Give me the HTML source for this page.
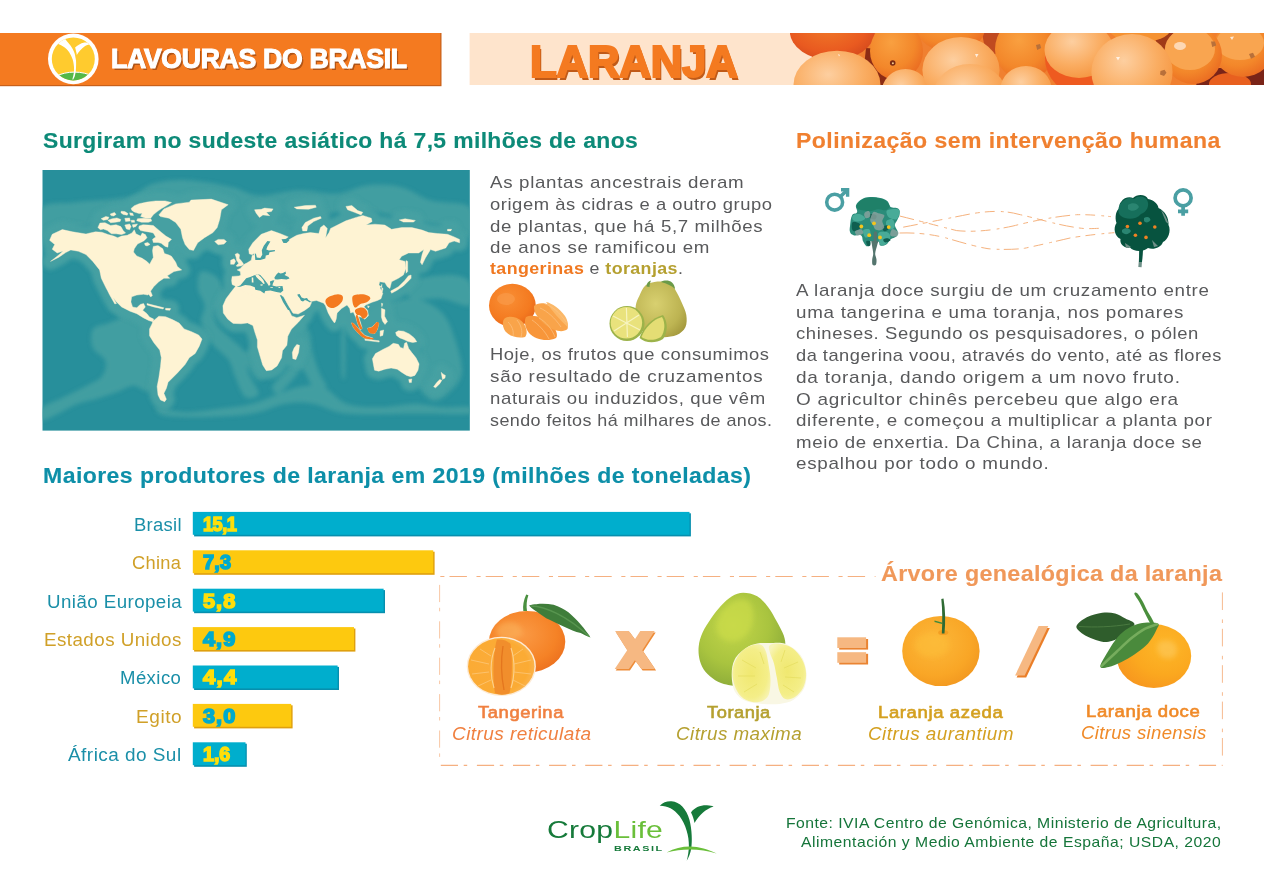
<!DOCTYPE html>
<html lang="pt-BR">
<head>
<meta charset="utf-8">
<title>Lavouras do Brasil - Laranja</title>
<style>
html,body{margin:0;padding:0;background:#fff;}
#page{position:relative;width:1264px;height:893px;overflow:hidden;background:#fff;font-family:"Liberation Sans",sans-serif;}
.t{position:absolute;margin:0;white-space:nowrap;line-height:1;font-family:"Liberation Sans",sans-serif;transform-origin:0 0;}
.abs{position:absolute;}
svg{position:absolute;left:0;top:0;overflow:visible;}
</style>
</head>
<body>
<div id="page">
<header id="topo">
<!-- header -->
<svg width="1264" height="893" viewBox="0 0 1264 893">
  <defs>
    <clipPath id="photoClip"><rect x="790" y="33" width="474" height="52"/></clipPath>
    <radialGradient id="oL" cx="40%" cy="35%" r="75%"><stop offset="0" stop-color="#fdcfa0"/><stop offset="0.55" stop-color="#faad62"/><stop offset="1" stop-color="#f4913a"/></radialGradient>
    <radialGradient id="oM" cx="40%" cy="35%" r="75%"><stop offset="0" stop-color="#f9a040"/><stop offset="0.6" stop-color="#f3872a"/><stop offset="1" stop-color="#e8641f"/></radialGradient>
    <radialGradient id="oD" cx="45%" cy="40%" r="75%"><stop offset="0" stop-color="#f07a28"/><stop offset="0.6" stop-color="#e95a20"/><stop offset="1" stop-color="#c8401c"/></radialGradient>
  </defs>
  <!-- orange banner -->
  <rect x="0" y="33" width="441.5" height="53.2" fill="#c8601a"/>
  <rect x="0" y="33" width="440.3" height="52" fill="#f47a20"/>
  <!-- peach banner -->
  <rect x="469.6" y="33" width="794.4" height="52" fill="#fee4cc"/>
  <!-- oranges photo -->
  <g clip-path="url(#photoClip)">
    <rect x="812" y="33" width="452" height="52" fill="#f08030"/>
    <!-- dark gaps -->
    <path d="M866 48 L892 50 L892 86 L862 86 Z" fill="#8c2c14"/>
    <path d="M982 33 H1002 V54 H986 Z" fill="#c04a20"/>
    <path d="M1154 33 H1178 V50 H1158 Z" fill="#a03a18"/>
    <path d="M1200 68 H1264 V86 H1196 Z" fill="#7a2418"/>
    <!-- back row -->
    <ellipse cx="832.4" cy="31" rx="42.6" ry="29.5" fill="url(#oD)"/>
    <ellipse cx="951" cy="28" rx="34" ry="24" fill="url(#oM)"/>
    <ellipse cx="1140" cy="30" rx="30" ry="12" fill="#f59232"/>
    <ellipse cx="896.500" cy="51" rx="26.500" ry="29" fill="url(#oM)"/>
    <circle cx="892.700" cy="63" r="2.800" fill="#7a2a14"/><circle cx="892.900" cy="63.200" r="1" fill="#f5d090"/>
    <ellipse cx="1025" cy="49" rx="30" ry="31" fill="url(#oM)"/>
    <ellipse cx="1230" cy="84" rx="21" ry="11" fill="#e8601f"/>
    <ellipse cx="1243" cy="49" rx="30" ry="28" fill="url(#oM)"/>
    <ellipse cx="1240" cy="43" rx="24" ry="17" fill="#f9a550"/>
    <ellipse cx="1193" cy="55" rx="29" ry="29" fill="url(#oM)"/>
    <ellipse cx="1190" cy="49" rx="25" ry="21" fill="#f9a550"/>
    <ellipse cx="1180" cy="46" rx="6" ry="4" fill="#fdd8b4"/>
    <ellipse cx="1080" cy="58" rx="35" ry="36" fill="#ee5a20"/>
    <ellipse cx="1079" cy="50" rx="34.500" ry="28" fill="url(#oL)"/>
    <!-- front row -->
    <ellipse cx="837" cy="84.700" rx="43.500" ry="34" fill="url(#oL)"/>
    <ellipse cx="905.500" cy="93" rx="24" ry="24" fill="url(#oL)"/>
    <ellipse cx="961" cy="70" rx="38.600" ry="33" fill="url(#oL)"/>
    <ellipse cx="970" cy="95" rx="36.500" ry="31" fill="url(#oL)"/>
    <ellipse cx="1026" cy="89" rx="25.500" ry="23" fill="url(#oL)"/>
    <ellipse cx="1132" cy="72" rx="40.600" ry="38" fill="url(#oL)"/>
    <path d="M1160.500 71l4-1.200 2 3-2.500 3.200-4-1.500z M1211 41.500l4 0 1.200 4-4 1.500z M1249 54l4-1.200 2 4-4 2z M1036 45l4-1 1.200 4-4 2z" fill="#b8703a"/>
    <path d="M1116 57l2 3.500 2-3.500z M1230 37l2 3 2-3.500z M975 54l1.500 3.500 2-3.500z M838 54l2 1 -1 1.500z" fill="#fff" opacity=".75"/>
  </g>
  <!-- logo circle -->
  <circle cx="73.3" cy="58.9" r="25.3" fill="#fff"/>
  <clipPath id="lgc"><circle cx="73.3" cy="58.9" r="21.5"/></clipPath>
  <g clip-path="url(#lgc)">
    <rect x="48" y="33" width="52" height="52" fill="#ffcb2e"/>
    <ellipse cx="74.5" cy="86.5" rx="26" ry="14.4" fill="#54b848" stroke="#fff" stroke-width="1"/>
    <path d="M56 45 L58.4 42 C60 41 62 39 64.3 38 C66.5 40.5 68 42.5 69.2 44 C71 46 72.500 48.500 73.300 50.200 C74.500 52.500 75.200 55 75.400 57.200 C76 59.500 76.200 62 76.100 64.100 C76.100 66.500 76 69 75.800 71.100 C75.500 73 75.200 75 74.700 76.600 L73.200 79.500 L72.300 79.500 C73 77 73.600 74.500 73.900 72.400 C74.100 70.500 74.100 68.500 74 66.900 C73.800 64.500 73.300 61.500 72.600 59.300 C71.800 57 70.600 54.500 69.200 52.300 C67.500 50 65.500 48 63.600 46.800 C62 45.600 60.200 44.600 58.400 44 Z" fill="#fff"/>
    <path d="M75.100 47.400 C76.300 46.300 77.500 45.400 78.900 44.700 C80.600 43.800 82.500 43 84.400 42.600 C85.700 42.500 87 42.600 88.300 42.900 L90 44.300 C87.800 44.800 86.400 45.400 85.100 46.100 C83.400 47.300 81.800 48.600 80.300 50.200 C79 51.700 77.800 53.300 76.800 55.100 C76.700 53.800 76.500 52.600 76.100 51.600 C75.900 50.200 75.500 48.800 75.100 47.400 Z" fill="#fff"/>
  </g>
</svg>
<div class="t" style="font-size:27.4px;font-weight:700;color:#fff;letter-spacing:-0.335px;top:44.70px;left:110.50px;transform:scaleX(0.9732);text-shadow:1.8px 2.3px 0 #b05416;-webkit-text-stroke:1.1px #fff;">LAVOURAS DO BRASIL</div>
<h1 class="t" style="font-size:44px;font-weight:700;color:#f47a20;letter-spacing:-0.163px;top:40.00px;left:529.80px;transform:scaleX(0.9931);text-shadow:2px 2.5px 0 #c05a18;-webkit-text-stroke:2.2px #f47a20;">LARANJA</h1>
</header>
<section id="origem">
<!-- world map -->
<svg width="1264" height="893" viewBox="0 0 1264 893">
  <defs>
    <clipPath id="mapClip"><rect x="42.5" y="170" width="427.3" height="260.6"/></clipPath>
    <filter id="blur6" x="-20%" y="-20%" width="140%" height="140%"><feGaussianBlur stdDeviation="5"/></filter>
    <filter id="blur3" x="-20%" y="-20%" width="140%" height="140%"><feGaussianBlur stdDeviation="2"/></filter>
  </defs>
  <rect x="42.5" y="170" width="427.3" height="260.6" fill="#278f9b"/>
  <g clip-path="url(#mapClip)">
    <path d="M42.0,207.3C47.6,201.3 61.8,203.9 75.9,202.2C90.0,200.5 113.7,200.2 126.7,197.1C139.6,194.0 143.6,186.4 153.8,183.5C163.9,180.7 174.6,179.6 187.6,180.2C200.6,180.7 219.8,184.4 231.6,186.9C243.5,189.5 247.4,194.8 258.7,195.4C270.0,196.0 286.4,190.6 299.4,190.3C312.3,190.0 325.3,194.6 336.6,193.7C347.9,192.9 356.4,186.4 367.1,185.2C377.8,184.1 390.2,184.4 401.0,186.9C411.7,189.5 419.9,197.1 431.4,200.5C442.9,203.9 463.6,201.0 470.0,207.3C476.5,213.5 473.7,234.3 470.0,237.7C466.4,241.1 457.6,230.4 448.4,227.6C439.1,224.7 428.6,223.6 414.5,220.8C400.4,218.0 377.8,211.8 363.7,210.6C349.6,209.5 338.3,211.2 329.8,214.0C321.4,216.8 321.4,224.7 312.9,227.6C304.4,230.4 289.2,229.3 279.0,231.0C268.9,232.6 259.9,233.2 252.0,237.7C244.1,242.2 238.4,255.8 231.6,258.0C224.9,260.3 218.1,251.8 211.3,251.3C204.5,250.7 196.6,251.3 191.0,254.7C185.4,258.0 183.7,274.4 177.5,271.6C171.2,268.8 162.2,247.3 153.8,237.7C145.3,228.1 136.8,216.3 126.7,214.0C116.5,211.8 103.5,221.4 92.8,224.2C82.1,227.0 70.8,228.7 62.3,231.0C53.9,233.2 45.4,241.7 42.0,237.7C38.6,233.8 36.4,213.2 42.0,207.3ZM201.2,271.6C204.5,269.9 214.1,273.8 218.1,278.4C222.0,282.9 225.4,293.0 224.9,298.7C224.3,304.3 215.8,307.7 214.7,312.2C213.6,316.7 215.3,321.3 218.1,325.8C220.9,330.3 227.1,334.8 231.6,339.3C236.2,343.8 242.4,347.2 245.2,352.9C248.0,358.5 246.3,366.4 248.6,373.2C250.8,380.0 259.3,389.6 258.7,393.5C258.2,397.5 249.1,399.7 245.2,396.9C241.2,394.1 237.8,382.8 235.0,376.6C232.2,370.4 232.2,365.3 228.3,359.6C224.3,354.0 215.8,348.9 211.3,342.7C206.8,336.5 202.3,328.6 201.2,322.4C200.0,316.2 205.1,311.1 204.5,305.5C204.0,299.8 198.3,294.2 197.8,288.5C197.2,282.9 197.8,273.3 201.2,271.6ZM92.8,329.2C95.4,325.0 103.2,325.2 108.4,323.1C113.6,321.0 119.3,319.2 124.0,316.6C128.6,314.0 132.3,306.4 136.5,307.5C140.7,308.6 145.8,317.4 149.0,323.1C152.2,328.8 153.9,335.4 155.4,341.7C157.0,348.0 158.5,354.4 158.5,360.7C158.5,366.9 157.0,374.1 155.4,379.3C153.9,384.5 152.7,390.7 149.0,391.8C145.3,392.9 138.6,385.7 133.4,385.7C128.2,385.7 123.6,389.7 117.9,391.8C112.1,393.9 105.7,396.2 98.9,398.2C92.1,400.3 83.7,401.7 76.9,404.3C70.1,406.9 64.1,411.2 58.3,413.8C52.4,416.5 44.7,421.3 42.0,420.3C39.3,419.2 38.8,411.4 42.0,407.7C45.2,404.1 53.9,401.9 61.3,398.2C68.7,394.6 79.6,389.4 86.4,385.7C93.1,382.0 98.8,380.4 101.9,376.2C105.1,372.1 106.8,365.3 105.3,360.7C103.8,356.0 94.9,353.4 92.8,348.1C90.7,342.9 90.2,333.3 92.8,329.2ZM109.7,298.7C112.0,298.1 123.3,307.7 130.0,312.2C136.8,316.7 146.4,322.4 150.4,325.8C154.3,329.2 156.6,333.1 153.8,332.5C150.9,332.0 139.6,325.2 133.4,322.4C127.2,319.6 120.5,319.6 116.5,315.6C112.5,311.7 107.5,299.2 109.7,298.7ZM157.1,407.0C160.5,406.5 174.1,411.8 184.2,412.1C194.4,412.4 206.8,410.2 218.1,408.7C229.4,407.3 241.8,406.2 252.0,403.7C262.1,401.1 271.1,396.3 279.0,393.5C286.9,390.7 292.0,387.9 299.4,386.7C306.7,385.6 315.2,383.9 323.1,386.7C331.0,389.6 337.2,400.3 346.8,403.7C356.4,407.0 369.4,407.0 380.6,407.0C391.9,407.0 404.3,403.7 414.5,403.7C424.7,403.7 432.3,406.5 441.6,407.0C450.8,407.6 465.3,405.9 470.0,407.0C474.8,408.2 479.3,412.7 470.0,413.8C460.8,414.9 435.0,413.8 414.5,413.8C394.0,413.8 363.7,415.5 346.8,413.8C329.8,412.1 323.1,405.4 312.9,403.7C302.8,402.0 296.0,402.0 285.8,403.7C275.7,405.4 265.5,411.6 252.0,413.8C238.4,416.1 219.2,416.9 204.5,417.2C189.9,417.5 171.8,417.2 163.9,415.5C156.0,413.8 153.8,407.6 157.1,407.0ZM299.4,319.0C301.6,319.0 307.3,326.9 309.5,332.5C311.8,338.2 311.2,346.1 312.9,352.9C314.6,359.6 317.4,367.5 319.7,373.2C321.9,378.8 327.6,384.5 326.5,386.7C325.3,389.0 316.9,389.6 312.9,386.7C309.0,383.9 306.1,370.9 302.8,369.8C299.4,368.7 296.5,376.0 292.6,380.0C288.6,383.9 282.4,392.4 279.0,393.5C275.7,394.6 271.1,390.7 272.3,386.7C273.4,382.8 281.3,375.4 285.8,369.8C290.3,364.2 297.7,359.1 299.4,352.9C301.1,346.7 296.0,338.2 296.0,332.5C296.0,326.9 297.1,319.0 299.4,319.0ZM341.7,319.0C342.3,310.0 344.5,310.0 345.1,319.0C345.6,328.0 345.6,364.2 345.1,373.2C344.5,382.2 342.3,382.2 341.7,373.2C341.1,364.2 341.1,328.0 341.7,319.0ZM380.6,305.5C389.7,300.9 404.3,297.6 414.5,298.7C424.7,299.8 434.8,305.5 441.6,312.2C448.4,319.0 451.8,329.2 455.1,339.3C458.5,349.5 463.0,364.2 461.9,373.2C460.8,382.2 453.4,389.0 448.4,393.5C443.3,398.0 437.1,402.5 431.4,400.3C425.8,398.0 416.2,386.7 414.5,380.0C412.8,373.2 421.3,367.5 421.3,359.6C421.3,351.7 420.1,337.6 414.5,332.5C408.9,327.5 395.3,328.0 387.4,329.2C379.5,330.3 371.6,339.9 367.1,339.3C362.6,338.8 358.1,331.4 360.3,325.8C362.6,320.1 371.6,310.0 380.6,305.5ZM407.7,281.8C413.9,277.8 438.0,275.0 448.4,275.0C458.8,275.0 466.4,276.7 470.0,281.8C473.7,286.8 474.8,302.6 470.0,305.5C465.3,308.3 451.4,299.8 441.6,298.7C431.8,297.6 416.8,301.5 411.1,298.7C405.5,295.9 401.5,285.7 407.7,281.8ZM245.2,352.9C247.4,348.3 261.0,345.0 265.5,346.1C270.0,347.2 272.8,354.0 272.3,359.6C271.7,365.3 265.5,377.7 262.1,380.0C258.7,382.2 254.8,377.7 252.0,373.2C249.1,368.7 242.9,357.4 245.2,352.9Z" fill="#48a2a3" opacity=".8" filter="url(#blur3)"/>
    <path d="M49.6,240.3 52.2,234.3 62.3,229.6 72.5,231.8 86.0,234.0 90.0,233.0 95.5,231.8 101.9,232.2 108.2,234.6 113.7,236.1 117.7,237.7 121.6,236.1 127.2,235.3 131.9,233.0 134.3,229.8 135.9,233.8 140.6,236.1 142.2,233.0 145.4,234.6 147.0,237.7 143.8,240.9 140.6,242.5 137.5,244.1 134.3,248.8 133.5,252.0 136.7,255.9 142.2,258.3 147.0,261.5 149.7,264.2 151.3,261.1 153.3,257.5 152.5,250.4 153.3,246.4 158.0,245.6 162.8,248.8 164.4,253.5 169.1,255.1 171.5,256.3 175.7,262.3 177.4,266.5 181.7,269.9 174.0,271.6 167.3,275.8 169.8,278.3 163.9,278.3 158.8,281.7 153.7,286.8 150.7,291.0 150.7,291.4 152.4,295.4 150.7,297.1 148.7,294.2 147.8,295.1 143.6,294.2 136.8,295.1 131.7,296.8 130.9,301.9 132.6,306.9 136.8,307.8 140.2,304.4 143.6,303.5 145.3,306.9 142.7,310.3 147.0,313.7 149.5,317.1 153.7,319.1 152.9,321.8 148.7,320.5 143.6,317.9 136.8,313.7 130.0,311.2 121.6,306.9 116.5,301.9 113.1,297.6 116.5,303.5 114.8,303.9 109.7,295.1 107.2,290.0 106.3,288.5 101.3,278.3 99.6,269.9 92.8,261.4 86.0,254.6 78.4,251.3 70.8,249.9 65.7,252.6 58.9,257.2 50.5,261.4 58.1,255.5 63.2,250.9 57.2,253.0 52.2,249.2 54.7,244.5ZM152.9,321.3 158.8,316.2 165.6,316.7 172.4,319.6 179.1,323.0 184.2,328.9 191.0,331.5 198.6,334.9 202.0,339.1 199.4,345.9 195.2,353.5 189.3,357.7 185.1,364.5 177.4,373.0 172.4,378.0 168.1,382.3 166.4,388.2 163.9,393.3 166.4,399.2 164.7,401.7 160.5,400.0 158.0,395.0 157.1,386.5 158.8,378.0 160.5,366.2 161.3,357.7 159.7,350.1 153.7,342.5 149.5,335.7 149.5,328.9 152.0,323.9ZM147.0,303.5 157.1,306.1 163.9,307.8 163.0,309.0 153.7,306.9 147.0,304.9ZM165.6,308.3 170.7,308.6 169.8,310.3 165.6,310.0ZM158.8,214.9 163.9,208.9 175.7,203.9 189.3,202.2 191.0,200.1 211.3,199.1 228.2,204.7 221.4,209.8 219.8,219.1 217.2,227.6 213.0,232.6 204.5,237.7 197.7,242.8 193.5,250.4 189.3,249.6 185.1,244.5 182.5,237.7 180.8,229.3 175.7,222.5 169.0,218.2 160.5,216.6ZM214.7,241.4 218.1,239.4 224.0,239.4 226.5,241.4 224.0,244.1 218.1,244.8ZM131.1,208.4 134.3,205.7 139.1,203.7 147.0,202.1 155.7,200.9 165.2,200.9 171.5,202.5 165.9,206.1 161.2,208.8 157.2,211.6 153.3,214.8 150.9,217.9 145.4,217.9 140.6,216.4 142.2,213.2 139.1,213.6 134.3,212.0 131.9,210.4ZM137.5,218.7 143.8,218.3 150.9,218.7 151.7,221.1 148.5,222.3 141.4,222.3 136.7,220.7ZM139.1,225.9 143.0,224.7 148.5,225.1 153.3,225.5 156.5,228.2 161.2,232.2 165.9,236.1 171.5,239.3 168.3,242.5 167.9,247.2 165.2,246.4 161.2,243.3 158.0,242.5 153.3,242.5 152.5,239.3 155.7,236.9 153.3,233.0 150.1,232.2 145.4,231.4 140.6,230.6 138.7,228.2ZM129.6,212.8 132.7,213.2 133.5,215.6 130.3,215.2ZM121.2,211.2 124.8,211.6 128.0,213.6 127.2,215.2 123.2,214.4 120.9,212.8ZM110.2,214.0 114.5,212.4 116.1,214.4 113.7,216.0 111.0,215.6ZM101.1,218.7 105.8,216.4 109.0,217.2 107.8,219.5 103.4,220.3ZM107.8,220.3 112.2,218.7 116.9,217.9 120.9,219.5 120.1,221.5 115.3,222.3 110.6,222.7ZM124.8,218.3 129.6,217.9 130.3,221.1 125.6,221.5ZM131.1,220.3 134.3,220.2 134.7,222.3 131.5,222.3ZM97.9,227.4 99.9,223.1 105.0,222.7 110.6,225.5 116.1,224.7 120.9,226.6 123.2,230.6 125.6,233.0 121.6,234.6 116.1,233.8 111.4,233.8 107.4,230.6 103.4,229.0 100.3,229.8ZM124.8,225.1 129.6,223.9 131.1,226.6 129.6,229.8 126.4,229.0ZM132.3,224.7 137.5,223.9 135.9,226.6 133.1,227.4ZM144.6,243.3 147.8,242.5 150.1,244.4 147.0,246.0 145.0,245.2ZM235.1,254.3 237.6,253.2 239.6,254.8 239.1,258.3 241.7,261.3 243.7,264.3 241.7,265.8 237.1,266.5 236.1,265.8 238.6,263.3 236.6,260.3 236.1,257.3ZM230.6,260.3 234.1,258.8 235.6,261.3 234.1,264.3 230.6,264.3ZM252.8,242.8 261.2,234.3 271.4,230.6 279.9,233.5 288.3,236.9 282.4,241.1 284.9,242.8 290.9,238.6 296.8,235.2 303.6,233.5 310.3,232.6 318.8,233.5 320.5,227.6 323.9,225.0 327.3,228.4 325.6,237.7 329.0,232.6 330.6,228.4 337.4,225.0 345.9,220.8 356.0,217.4 362.8,215.4 371.3,218.2 372.1,221.6 366.2,225.0 374.7,224.2 384.8,225.0 391.6,229.3 401.7,227.6 411.9,227.6 422.1,230.1 428.8,232.6 437.3,233.5 447.5,234.3 454.2,236.9 459.6,239.4 459.6,242.8 454.2,241.1 449.1,242.8 445.8,247.9 435.6,251.3 430.5,249.6 429.7,250.9 425.4,258.0 422.1,264.8 420.4,262.3 422.1,254.6 423.8,249.6 418.7,253.0 408.5,253.0 401.7,256.3 399.2,259.7 405.1,261.4 406.0,268.2 403.4,275.0 398.4,278.3 391.6,281.7 389.9,288.5 387.4,286.8 384.8,282.6 379.7,281.7 378.9,285.1 383.1,288.5 381.4,295.3 381.9,284.3 380.1,287.9 382.8,293.3 381.0,298.7 377.5,300.5 372.1,302.3 365.8,305.0 364.0,306.7 367.6,310.3 368.5,315.7 364.9,319.3 362.2,317.5 358.6,316.6 360.4,322.0 362.2,328.3 360.4,330.0 357.7,323.8 355.9,317.5 353.3,312.1 350.6,313.0 349.7,308.5 347.0,305.0 341.6,308.5 337.1,313.0 336.2,319.3 334.4,322.9 331.7,319.3 328.2,313.0 325.5,305.8 323.7,303.2 316.5,300.5 311.1,301.4 311.5,302.8 309.7,306.7 304.9,310.2 298.2,314.1 293.0,313.2 288.2,305.5 283.7,296.9 280.7,295.1 280.7,295.1 276.4,298.6 260.3,298.6 245.2,292.5 238.1,288.5 236.6,286.7 232.1,284.5 231.6,280.5 232.1,276.4 239.1,275.9 240.7,274.9 240.2,271.4 237.1,269.9 240.2,268.4 244.2,264.3 247.2,262.8 251.2,260.3 252.2,255.3 253.8,255.3 254.3,253.2 252.2,254.8 249.2,253.8 248.7,249.2ZM241.2,285.2 248.4,286.1 255.6,288.8 262.7,293.3 268.1,291.5 275.3,293.3 280.7,296.3 283.9,301.9 288.2,309.1 291.8,315.9 296.8,317.7 304.5,315.2 298.6,322.0 291.4,329.2 287.8,336.3 286.9,345.3 282.5,350.7 281.6,357.8 277.1,365.9 271.7,370.0 266.3,370.7 262.7,365.0 260.0,356.0 257.4,347.1 257.4,339.9 254.7,331.8 252.9,325.6 247.5,322.9 241.2,323.8 233.2,323.4 227.8,319.3 223.3,313.0 222.9,305.8 226.0,298.7 231.4,291.5 235.8,286.1ZM296.8,344.4 299.5,345.3 298.6,352.5 295.9,359.6 292.8,358.7 292.3,352.5 294.1,348.0ZM254.5,209.8 261.2,209.3 264.6,208.1 273.1,208.9 271.4,211.5 266.3,212.3 269.7,215.7 262.9,214.9 259.5,217.4 256.2,213.2ZM294.2,207.2 305.3,205.6 315.4,205.2 316.3,207.2 308.6,209.3 296.8,208.9ZM301.9,227.6 305.3,222.5 313.7,218.2 320.5,216.6 321.3,218.2 313.7,221.6 307.8,225.9 306.9,230.9 302.7,230.9ZM345.9,206.4 351.8,205.6 357.7,210.6 362.8,212.3 361.1,214.9 354.3,212.3 347.6,209.8ZM399.2,219.9 405.1,218.8 415.3,220.4 413.6,222.1 403.4,222.1ZM447.5,229.3 451.7,229.3 450.8,230.9 447.5,230.9ZM406.0,260.6 407.7,261.4 407.7,271.6 406.0,273.3ZM408.5,275.8 411.1,275.0 411.1,278.3 408.5,280.9 403.4,286.0 396.7,290.5 391.6,293.2 390.7,291.0 398.4,286.8 404.3,280.9ZM364.9,339.0 379.2,340.8 379.2,342.1 364.9,340.3ZM381.4,308.2 385.0,309.8 384.6,316.2 387.5,321.6 385.0,324.5 382.5,321.1 381.4,317.0ZM380.1,330.9 383.7,330.0 382.8,335.4 380.1,336.3ZM381.4,303.2 382.8,303.7 381.9,306.7ZM367.6,305.8 369.4,306.4 368.1,308.0ZM334.1,319.8 335.5,320.2 335.1,322.3 334.1,321.6ZM351.5,322.9 354.1,323.8 359.5,330.0 364.9,335.4 373.0,338.1 372.1,339.5 364.0,338.1 357.7,332.7 353.3,327.4ZM367.6,328.3 372.1,327.0 376.6,322.3 378.9,323.4 377.5,329.2 374.8,333.6 369.4,332.7ZM372.4,358.8 375.5,353.6 382.8,349.5 389.0,346.4 393.2,343.3 398.3,344.3 400.4,347.4 403.5,348.4 404.6,343.3 406.6,342.2 408.7,348.4 411.8,352.6 416.0,357.8 419.1,364.0 418.0,370.2 414.9,375.4 410.8,376.8 406.6,375.4 401.5,372.3 397.3,369.2 391.1,368.1 384.9,369.2 378.7,371.2 374.5,370.2 373.5,365.0ZM408.7,379.5 411.8,378.9 411.4,382.6 409.3,382.6ZM441.2,372.3 442.9,373.9 445.4,375.4 445.0,378.1 442.5,379.5 441.9,376.4ZM441.9,380.2 439.8,383.7 435.6,387.8 433.6,386.8 436.7,382.6 439.8,379.5ZM395.6,332.5 398.3,330.8 403.5,331.2 409.3,333.9 414.3,337.9 416.8,341.8 412.8,342.6 408.1,341.6 403.9,339.5 399.8,337.9 396.5,335.4Z" fill="#46a1a3" stroke="#46a1a3" stroke-width="17" stroke-linejoin="round" filter="url(#blur3)" opacity=".95"/>
    <path d="M49.6,240.3 52.2,234.3 62.3,229.6 72.5,231.8 86.0,234.0 90.0,233.0 95.5,231.8 101.9,232.2 108.2,234.6 113.7,236.1 117.7,237.7 121.6,236.1 127.2,235.3 131.9,233.0 134.3,229.8 135.9,233.8 140.6,236.1 142.2,233.0 145.4,234.6 147.0,237.7 143.8,240.9 140.6,242.5 137.5,244.1 134.3,248.8 133.5,252.0 136.7,255.9 142.2,258.3 147.0,261.5 149.7,264.2 151.3,261.1 153.3,257.5 152.5,250.4 153.3,246.4 158.0,245.6 162.8,248.8 164.4,253.5 169.1,255.1 171.5,256.3 175.7,262.3 177.4,266.5 181.7,269.9 174.0,271.6 167.3,275.8 169.8,278.3 163.9,278.3 158.8,281.7 153.7,286.8 150.7,291.0 150.7,291.4 152.4,295.4 150.7,297.1 148.7,294.2 147.8,295.1 143.6,294.2 136.8,295.1 131.7,296.8 130.9,301.9 132.6,306.9 136.8,307.8 140.2,304.4 143.6,303.5 145.3,306.9 142.7,310.3 147.0,313.7 149.5,317.1 153.7,319.1 152.9,321.8 148.7,320.5 143.6,317.9 136.8,313.7 130.0,311.2 121.6,306.9 116.5,301.9 113.1,297.6 116.5,303.5 114.8,303.9 109.7,295.1 107.2,290.0 106.3,288.5 101.3,278.3 99.6,269.9 92.8,261.4 86.0,254.6 78.4,251.3 70.8,249.9 65.7,252.6 58.9,257.2 50.5,261.4 58.1,255.5 63.2,250.9 57.2,253.0 52.2,249.2 54.7,244.5ZM152.9,321.3 158.8,316.2 165.6,316.7 172.4,319.6 179.1,323.0 184.2,328.9 191.0,331.5 198.6,334.9 202.0,339.1 199.4,345.9 195.2,353.5 189.3,357.7 185.1,364.5 177.4,373.0 172.4,378.0 168.1,382.3 166.4,388.2 163.9,393.3 166.4,399.2 164.7,401.7 160.5,400.0 158.0,395.0 157.1,386.5 158.8,378.0 160.5,366.2 161.3,357.7 159.7,350.1 153.7,342.5 149.5,335.7 149.5,328.9 152.0,323.9ZM147.0,303.5 157.1,306.1 163.9,307.8 163.0,309.0 153.7,306.9 147.0,304.9ZM165.6,308.3 170.7,308.6 169.8,310.3 165.6,310.0ZM158.8,214.9 163.9,208.9 175.7,203.9 189.3,202.2 191.0,200.1 211.3,199.1 228.2,204.7 221.4,209.8 219.8,219.1 217.2,227.6 213.0,232.6 204.5,237.7 197.7,242.8 193.5,250.4 189.3,249.6 185.1,244.5 182.5,237.7 180.8,229.3 175.7,222.5 169.0,218.2 160.5,216.6ZM214.7,241.4 218.1,239.4 224.0,239.4 226.5,241.4 224.0,244.1 218.1,244.8ZM131.1,208.4 134.3,205.7 139.1,203.7 147.0,202.1 155.7,200.9 165.2,200.9 171.5,202.5 165.9,206.1 161.2,208.8 157.2,211.6 153.3,214.8 150.9,217.9 145.4,217.9 140.6,216.4 142.2,213.2 139.1,213.6 134.3,212.0 131.9,210.4ZM137.5,218.7 143.8,218.3 150.9,218.7 151.7,221.1 148.5,222.3 141.4,222.3 136.7,220.7ZM139.1,225.9 143.0,224.7 148.5,225.1 153.3,225.5 156.5,228.2 161.2,232.2 165.9,236.1 171.5,239.3 168.3,242.5 167.9,247.2 165.2,246.4 161.2,243.3 158.0,242.5 153.3,242.5 152.5,239.3 155.7,236.9 153.3,233.0 150.1,232.2 145.4,231.4 140.6,230.6 138.7,228.2ZM129.6,212.8 132.7,213.2 133.5,215.6 130.3,215.2ZM121.2,211.2 124.8,211.6 128.0,213.6 127.2,215.2 123.2,214.4 120.9,212.8ZM110.2,214.0 114.5,212.4 116.1,214.4 113.7,216.0 111.0,215.6ZM101.1,218.7 105.8,216.4 109.0,217.2 107.8,219.5 103.4,220.3ZM107.8,220.3 112.2,218.7 116.9,217.9 120.9,219.5 120.1,221.5 115.3,222.3 110.6,222.7ZM124.8,218.3 129.6,217.9 130.3,221.1 125.6,221.5ZM131.1,220.3 134.3,220.2 134.7,222.3 131.5,222.3ZM97.9,227.4 99.9,223.1 105.0,222.7 110.6,225.5 116.1,224.7 120.9,226.6 123.2,230.6 125.6,233.0 121.6,234.6 116.1,233.8 111.4,233.8 107.4,230.6 103.4,229.0 100.3,229.8ZM124.8,225.1 129.6,223.9 131.1,226.6 129.6,229.8 126.4,229.0ZM132.3,224.7 137.5,223.9 135.9,226.6 133.1,227.4ZM144.6,243.3 147.8,242.5 150.1,244.4 147.0,246.0 145.0,245.2ZM235.1,254.3 237.6,253.2 239.6,254.8 239.1,258.3 241.7,261.3 243.7,264.3 241.7,265.8 237.1,266.5 236.1,265.8 238.6,263.3 236.6,260.3 236.1,257.3ZM230.6,260.3 234.1,258.8 235.6,261.3 234.1,264.3 230.6,264.3ZM252.8,242.8 261.2,234.3 271.4,230.6 279.9,233.5 288.3,236.9 282.4,241.1 284.9,242.8 290.9,238.6 296.8,235.2 303.6,233.5 310.3,232.6 318.8,233.5 320.5,227.6 323.9,225.0 327.3,228.4 325.6,237.7 329.0,232.6 330.6,228.4 337.4,225.0 345.9,220.8 356.0,217.4 362.8,215.4 371.3,218.2 372.1,221.6 366.2,225.0 374.7,224.2 384.8,225.0 391.6,229.3 401.7,227.6 411.9,227.6 422.1,230.1 428.8,232.6 437.3,233.5 447.5,234.3 454.2,236.9 459.6,239.4 459.6,242.8 454.2,241.1 449.1,242.8 445.8,247.9 435.6,251.3 430.5,249.6 429.7,250.9 425.4,258.0 422.1,264.8 420.4,262.3 422.1,254.6 423.8,249.6 418.7,253.0 408.5,253.0 401.7,256.3 399.2,259.7 405.1,261.4 406.0,268.2 403.4,275.0 398.4,278.3 391.6,281.7 389.9,288.5 387.4,286.8 384.8,282.6 379.7,281.7 378.9,285.1 383.1,288.5 381.4,295.3 381.9,284.3 380.1,287.9 382.8,293.3 381.0,298.7 377.5,300.5 372.1,302.3 365.8,305.0 364.0,306.7 367.6,310.3 368.5,315.7 364.9,319.3 362.2,317.5 358.6,316.6 360.4,322.0 362.2,328.3 360.4,330.0 357.7,323.8 355.9,317.5 353.3,312.1 350.6,313.0 349.7,308.5 347.0,305.0 341.6,308.5 337.1,313.0 336.2,319.3 334.4,322.9 331.7,319.3 328.2,313.0 325.5,305.8 323.7,303.2 316.5,300.5 311.1,301.4 311.5,302.8 309.7,306.7 304.9,310.2 298.2,314.1 293.0,313.2 288.2,305.5 283.7,296.9 280.7,295.1 280.7,295.1 276.4,298.6 260.3,298.6 245.2,292.5 238.1,288.5 236.6,286.7 232.1,284.5 231.6,280.5 232.1,276.4 239.1,275.9 240.7,274.9 240.2,271.4 237.1,269.9 240.2,268.4 244.2,264.3 247.2,262.8 251.2,260.3 252.2,255.3 253.8,255.3 254.3,253.2 252.2,254.8 249.2,253.8 248.7,249.2ZM241.2,285.2 248.4,286.1 255.6,288.8 262.7,293.3 268.1,291.5 275.3,293.3 280.7,296.3 283.9,301.9 288.2,309.1 291.8,315.9 296.8,317.7 304.5,315.2 298.6,322.0 291.4,329.2 287.8,336.3 286.9,345.3 282.5,350.7 281.6,357.8 277.1,365.9 271.7,370.0 266.3,370.7 262.7,365.0 260.0,356.0 257.4,347.1 257.4,339.9 254.7,331.8 252.9,325.6 247.5,322.9 241.2,323.8 233.2,323.4 227.8,319.3 223.3,313.0 222.9,305.8 226.0,298.7 231.4,291.5 235.8,286.1ZM296.8,344.4 299.5,345.3 298.6,352.5 295.9,359.6 292.8,358.7 292.3,352.5 294.1,348.0ZM254.5,209.8 261.2,209.3 264.6,208.1 273.1,208.9 271.4,211.5 266.3,212.3 269.7,215.7 262.9,214.9 259.5,217.4 256.2,213.2ZM294.2,207.2 305.3,205.6 315.4,205.2 316.3,207.2 308.6,209.3 296.8,208.9ZM301.9,227.6 305.3,222.5 313.7,218.2 320.5,216.6 321.3,218.2 313.7,221.6 307.8,225.9 306.9,230.9 302.7,230.9ZM345.9,206.4 351.8,205.6 357.7,210.6 362.8,212.3 361.1,214.9 354.3,212.3 347.6,209.8ZM399.2,219.9 405.1,218.8 415.3,220.4 413.6,222.1 403.4,222.1ZM447.5,229.3 451.7,229.3 450.8,230.9 447.5,230.9ZM406.0,260.6 407.7,261.4 407.7,271.6 406.0,273.3ZM408.5,275.8 411.1,275.0 411.1,278.3 408.5,280.9 403.4,286.0 396.7,290.5 391.6,293.2 390.7,291.0 398.4,286.8 404.3,280.9ZM364.9,339.0 379.2,340.8 379.2,342.1 364.9,340.3ZM381.4,308.2 385.0,309.8 384.6,316.2 387.5,321.6 385.0,324.5 382.5,321.1 381.4,317.0ZM380.1,330.9 383.7,330.0 382.8,335.4 380.1,336.3ZM381.4,303.2 382.8,303.7 381.9,306.7ZM367.6,305.8 369.4,306.4 368.1,308.0ZM334.1,319.8 335.5,320.2 335.1,322.3 334.1,321.6ZM351.5,322.9 354.1,323.8 359.5,330.0 364.9,335.4 373.0,338.1 372.1,339.5 364.0,338.1 357.7,332.7 353.3,327.4ZM367.6,328.3 372.1,327.0 376.6,322.3 378.9,323.4 377.5,329.2 374.8,333.6 369.4,332.7ZM372.4,358.8 375.5,353.6 382.8,349.5 389.0,346.4 393.2,343.3 398.3,344.3 400.4,347.4 403.5,348.4 404.6,343.3 406.6,342.2 408.7,348.4 411.8,352.6 416.0,357.8 419.1,364.0 418.0,370.2 414.9,375.4 410.8,376.8 406.6,375.4 401.5,372.3 397.3,369.2 391.1,368.1 384.9,369.2 378.7,371.2 374.5,370.2 373.5,365.0ZM408.7,379.5 411.8,378.9 411.4,382.6 409.3,382.6ZM441.2,372.3 442.9,373.9 445.4,375.4 445.0,378.1 442.5,379.5 441.9,376.4ZM441.9,380.2 439.8,383.7 435.6,387.8 433.6,386.8 436.7,382.6 439.8,379.5ZM395.6,332.5 398.3,330.8 403.5,331.2 409.3,333.9 414.3,337.9 416.8,341.8 412.8,342.6 408.1,341.6 403.9,339.5 399.8,337.9 396.5,335.4Z" fill="#fef3d3" stroke="#fef3d3" stroke-width="0.4" stroke-linejoin="round"/>
    <path d="M267.4,241.0 270.4,241.4 267.4,246.4 266.3,249.4 268.9,250.4 274.9,250.0 274.9,251.2 269.4,252.2 268.9,254.8 265.8,255.5 265.3,258.5 260.3,260.1 255.3,260.1 254.8,254.3 255.8,253.2 256.8,257.5 260.3,257.9 262.3,254.8 261.8,250.2 263.8,245.7ZM236.6,286.7 240.2,285.5 242.7,282.5 246.2,278.2 250.2,276.9 253.8,275.6 256.8,274.4 258.8,274.4 260.3,274.9 264.3,279.4 267.4,283.5 268.9,286.0 270.4,284.5 269.9,281.5 272.4,280.5 274.4,280.3 272.9,283.5 272.4,285.5 276.4,286.5 282.5,286.0 283.3,290.5 280.7,292.7 276.4,292.0 270.4,290.5 265.3,291.0 264.3,293.4 260.3,290.7 255.3,289.7 254.8,287.2 250.2,285.5 245.2,285.0 240.2,286.7ZM274.4,277.6 276.4,274.4 278.4,272.4 280.5,273.4 283.0,272.9 285.5,271.4 286.0,273.4 284.5,274.9 288.5,276.9 289.5,278.4 286.5,279.4 281.5,278.9 277.4,279.6 274.9,279.2ZM297.3,294.4 299.6,294.1 301.6,297.5 304.3,298.5 307.0,298.1 308.4,300.1 311.0,301.5 310.0,302.5 307.0,300.8 305.0,300.1 303.0,301.5 301.0,300.8 299.6,298.1 297.9,296.1ZM280.1,295.4 281.7,295.6 285.5,302.1 290.5,310.0 288.0,310.0 283.0,302.1ZM281.5,239.3 285.5,239.1 289.5,240.2 286.5,243.0 283.5,243.0Z" fill="#46a1a3"/>
    <path d="M255.3,274.9 257.8,274.2 260.8,276.9 263.3,279.9 264.8,283.5 263.5,284.0 261.3,281.5 258.8,279.4 256.3,276.9ZM260.3,284.5 262.8,284.3 262.3,285.7 260.5,285.5ZM251.7,277.6 253.2,277.6 253.5,282.5 251.8,282.5ZM270.4,287.3 272.9,287.3 272.9,288.0 270.4,288.0ZM278.4,287.3 280.3,286.9 280.1,287.9 278.4,288.1Z" fill="#fef3d3"/>
    <path d="M325.5,302.3C325.2,300.9 325.5,299.7 326.4,298.7C327.3,297.6 328.9,296.7 330.8,296.0C332.8,295.2 336.1,294.2 338.0,294.2C340.0,294.2 341.8,294.9 342.5,296.0C343.2,297.0 343.1,299.0 342.5,300.5C341.9,302.0 340.4,303.7 338.9,305.0C337.4,306.2 335.3,307.7 333.5,308.0C331.7,308.3 329.5,307.7 328.2,306.7C326.8,305.8 325.8,303.6 325.5,302.3ZM352.4,296.9C352.8,295.2 354.1,295.2 355.9,294.7C357.7,294.3 361.0,294.0 363.1,294.2C365.2,294.4 367.3,295.2 368.5,296.0C369.7,296.7 370.6,297.6 370.3,298.7C370.0,299.7 368.3,301.4 366.7,302.3C365.1,303.2 362.2,303.2 360.4,304.1C358.6,305.0 357.1,307.5 355.9,307.6C354.7,307.8 353.9,306.7 353.3,305.0C352.7,303.2 351.9,298.6 352.4,296.9ZM355.0,310.3C355.6,309.1 358.8,307.9 360.4,307.6C362.1,307.3 363.7,307.6 364.9,308.5C366.1,309.4 367.3,311.7 367.6,313.0C367.9,314.4 367.4,315.6 366.7,316.6C365.9,317.6 364.2,318.9 363.1,318.8C362.1,318.6 361.5,316.4 360.4,315.7C359.4,315.0 357.7,315.7 356.8,314.8C355.9,313.9 354.4,311.5 355.0,310.3ZM355.9,316.2C355.9,314.9 357.0,314.5 357.7,315.7C358.5,317.0 359.7,321.7 360.4,323.8C361.2,325.9 362.2,327.4 362.2,328.3C362.2,329.2 361.2,329.9 360.4,329.2C359.7,328.4 358.5,325.9 357.7,323.8C357.0,321.6 355.9,317.6 355.9,316.2ZM351.5,322.9C351.6,322.3 352.8,322.6 354.1,323.8C355.5,325.0 357.7,328.1 359.5,330.0C361.3,332.0 362.7,334.1 364.9,335.4C367.1,336.8 371.8,337.4 373.0,338.1C374.2,338.8 373.6,339.5 372.1,339.5C370.6,339.5 366.4,339.2 364.0,338.1C361.6,337.0 359.5,334.5 357.7,332.7C355.9,330.9 354.3,329.0 353.3,327.4C352.2,325.7 351.3,323.5 351.5,322.9ZM367.6,328.3C368.0,327.3 370.6,328.0 372.1,327.0C373.6,326.0 375.4,322.9 376.6,322.3C377.7,321.7 378.7,322.3 378.9,323.4C379.0,324.5 378.1,327.4 377.5,329.2C376.8,330.9 376.1,333.0 374.8,333.6C373.4,334.2 370.6,333.6 369.4,332.7C368.2,331.8 367.1,329.2 367.6,328.3Z" fill="#f47a20"/>
  </g>
</svg>
<!-- small fruits beside text -->
<svg width="1264" height="893" viewBox="0 0 1264 893">
  <defs>
    <radialGradient id="tgS" cx="40%" cy="35%" r="70%"><stop offset="0" stop-color="#f98f35"/><stop offset="0.7" stop-color="#f47a20"/><stop offset="1" stop-color="#e8661a"/></radialGradient>
    <radialGradient id="pmS" cx="40%" cy="40%" r="70%"><stop offset="0" stop-color="#d8d070"/><stop offset="0.7" stop-color="#bdb452"/><stop offset="1" stop-color="#a59a3e"/></radialGradient>
  </defs>
  <!-- tangerine whole + segments -->
  <ellipse cx="512.4" cy="305.4" rx="23.4" ry="21.6" fill="url(#tgS)"/>
  <path d="M503.500 320 C506 315 516 316 521.500 321 C527 326 528 334 525 337 C518 339 508 336 504.500 330 C502.500 326 502.500 323 503.500 320 Z" fill="#f9a44a"/>
  <path d="M526 317 C532 314 544 317 551 324 C557 330 558 336 556 338 C548 342 535 340 529 333 C524.500 327 524 321 526 317 Z" fill="#f8963a"/>
  <path d="M534 306 C539 301 550 303 558 310 C565 317 569 325 567.500 329 C563 333 554 331 547 326 C539 320 533 312 534 306 Z" fill="#f9a44a"/>
  <path d="M546 302 C552 303 560 309 565 316 C568 321 568.500 325 567.500 327 C560 320 553 312 546 302 Z" fill="#fbb868"/>
  <path d="M508 322 C512 326 514 331 513 336 M517 320 C521 325 523 331 521 337 M532 320 C538 324 545 331 549 339 M539 318 C546 322 552 329 555 337 M540 308 C547 311 555 318 561 327 M545 304 C552 306 560 313 566 322" stroke="#fcc486" stroke-width="0.8" fill="none" opacity=".85"/>
  <ellipse cx="506" cy="299" rx="9" ry="6" fill="#fa9a48" opacity=".7"/>
  <!-- pomelo: body, half, wedge -->
  <path d="M657.5 281.6 C661.5 281.2 666.7 281.3 669.7 282.8 C672.8 284.3 673.8 287.4 675.8 290.7 C677.8 294.0 680.1 298.8 681.9 302.9 C683.6 306.9 685.7 310.9 686.3 315.0 C686.9 319.1 687.0 323.8 685.4 327.2 C683.8 330.6 680.2 333.4 676.7 335.1 C673.2 336.8 668.1 336.9 664.5 337.2 C660.9 337.5 658.2 337.7 655.0 337.0 C651.8 336.3 648.2 335.8 645.0 333.0 C641.8 330.2 637.5 324.6 636.0 320.0 C634.5 315.4 635.2 309.5 635.8 305.5 C636.3 301.5 637.7 299.2 639.3 295.9 C640.9 292.5 642.4 287.8 645.4 285.4 C648.4 283.0 653.5 282.0 657.5 281.6 Z" fill="url(#pmS)"/>
  <path d="M646.5 286.500 C646.500 283 648.500 281 651 280.500 C650 283 649.500 285 649.500 287 Z M661 282 C664 280 669 280 672 282.500 C674 284.500 675 287 675 289 C672 286 667 283.500 661 282 Z" fill="#6a9a48"/>
  <circle cx="627" cy="323.500" r="17.500" fill="#9cb34a"/>
  <circle cx="626.400" cy="322.800" r="15.700" fill="#e9e27c"/>
  <path d="M626.400 308 L627.400 337 M613 316 L640 330 M614 331 L639 315" stroke="#f7f4c0" stroke-width="1.200" fill="none"/>
  <path d="M639.500 338 C643 327 652 318 663 315 C668 322 668 332 663 339 C655 344 645 343 639.500 338 Z" fill="#9cb34a"/>
  <path d="M641.500 337 C645 327.500 653 319.500 662 317 C665.500 323 665 331 661 337 C654 341 646 340.500 641.500 337 Z" fill="#e4dd74"/>
</svg>
<h2 class="t" style="font-size:21.8px;font-weight:700;color:#0d8a78;letter-spacing:0.350px;top:129.90px;left:42.60px;transform:scaleX(1.0503);-webkit-text-stroke:0.12px currentColor;">Surgiram no sudeste asiático há 7,5 milhões de anos</h2>
<p class="t" style="font-size:16.6px;font-weight:400;color:#58595b;letter-spacing:0.605px;top:175.20px;left:489.60px;transform:scaleX(1.1270);">As plantas ancestrais deram</p>
<p class="t" style="font-size:16.6px;font-weight:400;color:#58595b;letter-spacing:0.502px;top:197.00px;left:489.60px;transform:scaleX(1.1082);">origem às cidras e a outro grupo</p>
<p class="t" style="font-size:16.6px;font-weight:400;color:#58595b;letter-spacing:0.573px;top:218.50px;left:489.60px;transform:scaleX(1.1239);">de plantas, que há 5,7 milhões</p>
<p class="t" style="font-size:16.6px;font-weight:400;color:#58595b;letter-spacing:0.622px;top:240.00px;left:489.60px;transform:scaleX(1.1282);">de anos se ramificou em</p>
<p class="t" style="font-size:16.6px;font-weight:400;color:#58595b;letter-spacing:0.378px;top:261.40px;left:489.60px;transform:scaleX(1.0746);"><b style="color:#f07820">tangerinas</b> e <b style="color:#b5a030">toranjas</b>.</p>
<p class="t" style="font-size:16.6px;font-weight:400;color:#58595b;letter-spacing:0.523px;top:347.40px;left:489.60px;transform:scaleX(1.1062);">Hoje, os frutos que consumimos</p>
<p class="t" style="font-size:16.6px;font-weight:400;color:#58595b;letter-spacing:0.657px;top:369.20px;left:489.60px;transform:scaleX(1.1360);">são resultado de cruzamentos</p>
<p class="t" style="font-size:16.6px;font-weight:400;color:#58595b;letter-spacing:0.561px;top:391.00px;left:489.60px;transform:scaleX(1.1189);">naturais ou induzidos, que vêm</p>
<p class="t" style="font-size:16.6px;font-weight:400;color:#58595b;letter-spacing:0.391px;top:412.60px;left:489.60px;transform:scaleX(1.0819);">sendo feitos há milhares de anos.</p>
</section>
<section id="polinizacao">
<!-- pollination graphic -->
<svg width="1264" height="893" viewBox="0 0 1264 893">
  <!-- male symbol -->
  <g fill="none" stroke="#4a9fa3" stroke-width="3.56">
    <circle cx="834.65" cy="202.2" r="7.94"/>
    <path d="M840.2 196.7 L847.4 189.9"/>
  </g>
  <path d="M841 188.1 H849.3 V196.8 H845.9 V191.5 H841 Z" fill="#4a9fa3"/>
  <!-- female symbol -->
  <g fill="none" stroke="#4a9fa3" stroke-width="3.7">
    <circle cx="1183.1" cy="197.9" r="8"/>
    <path d="M1183.1 206 V215.8 M1178 211.3 H1188.2"/>
  </g>
  <!-- pollen paths -->
  <g fill="none" stroke="#f5b27e" stroke-width="1" stroke-dasharray="14 6 4 6 9 7 2 5" stroke-linecap="round">
    <path d="M903.6 227.1 C925 223 950 218 970 214 C990 210.500 1005 210.500 1019 214.4 C1040 219 1060 226 1083.600 228.500 C1090 228.800 1095 228.500 1099.200 228.300"/>
    <path d="M900 216.100 C918 220.500 940 226.500 956.700 230.600 C975 232.500 995 230 1013 226 C1035 220.500 1055 216.500 1076.600 214.700 C1090 214.500 1100 215.500 1110.500 216.600"/>
    <path d="M900 233 C915 232.500 930 234 944.500 237.500 C960 242 975 246.500 988 248.700 C1000 249.800 1015 249.600 1024.400 248.300 C1040 245 1055 241.500 1070.500 237.900 C1085 235.500 1100 233.800 1114 232.700"/>
  </g>
  <!-- tree 1 (male) -->
  <g>
    <path d="M871.7 239.4 C872.8 238.2 877.9 237.4 878.8 238.4 C879.7 239.4 877.6 242.9 877.1 245.4 C876.5 247.9 875.3 251.1 875.2 253.5 C875.1 255.8 876.4 257.6 876.5 259.5 C876.6 261.4 876.5 263.9 875.9 264.8 C875.2 265.6 873.2 265.6 872.6 264.8 C872.0 263.9 872.1 261.4 872.2 259.5 C872.3 257.6 873.3 255.8 873.2 253.5 C873.2 251.1 872.3 247.8 872.0 245.4 C871.8 243.1 870.6 240.6 871.7 239.4 Z" fill="#54756e"/>
    <path d="M856.1 205.1 C857.1 202.5 859.3 200.7 862.2 199.1 C865.0 197.5 866.6 197.3 870.2 197.1 C873.8 196.9 876.9 197.3 880.3 198.1 C883.7 198.9 885.3 199.4 887.3 201.1 C889.3 202.8 888.1 205.1 890.4 206.7 C892.6 208.2 896.6 207.2 898.4 208.7 C900.3 210.2 899.8 212.0 899.6 214.2 C899.4 216.4 898.3 217.5 897.4 219.7 C896.5 222.0 894.8 222.8 894.9 225.3 C895.0 227.8 897.6 230.1 897.9 232.3 C898.2 234.5 897.9 234.9 896.4 236.4 C894.9 237.8 892.4 237.8 890.4 239.4 C888.3 241.0 888.3 243.2 886.3 244.4 C884.3 245.6 881.9 246.0 880.3 245.4 C878.7 244.8 880.3 242.2 878.3 241.4 C876.3 240.6 872.4 240.4 870.2 241.4 C868.0 242.4 868.6 246.4 867.2 246.4 C865.8 246.4 864.4 243.6 863.2 241.4 C862.0 239.2 863.0 236.6 861.1 235.4 C859.3 234.1 856.3 236.0 854.1 235.4 C851.9 234.7 850.9 234.3 850.1 232.3 C849.3 230.3 849.7 228.7 850.1 225.3 C850.5 221.9 850.7 217.8 852.1 215.2 C853.5 212.6 856.3 214.2 857.1 212.2 C857.9 210.2 855.1 207.8 856.1 205.1 Z" fill="#2b8c7a"/>
    <path d="M856.6 205.6 C857.3 204.1 859.9 200.9 862.2 199.6 C864.4 198.3 867.2 197.8 870.2 197.6 C873.2 197.4 877.5 197.9 880.3 198.6 C883.1 199.3 885.2 200.3 886.8 201.6 C888.4 203.0 890.1 205.2 889.8 206.7 C889.6 208.1 887.2 209.8 885.3 210.2 C883.4 210.6 880.8 209.0 878.3 209.2 C875.8 209.3 872.9 211.0 870.2 211.2 C867.5 211.4 864.2 210.5 862.2 210.2 C860.1 209.8 859.1 209.9 858.1 209.2 C857.2 208.4 855.9 207.2 856.6 205.6 Z" fill="#1f8068"/>
    <path d="M887.3 210.2 C889.1 209.2 895.9 208.5 897.9 209.2 C899.9 209.8 899.5 212.5 899.2 214.2 C899.0 215.9 897.9 218.6 896.4 219.2 C894.9 219.9 891.9 218.9 890.4 218.2 C888.8 217.6 887.8 216.6 887.3 215.2 C886.8 213.9 885.6 211.2 887.3 210.2 Z M886.3 221.3 C887.2 219.7 890.9 218.6 892.4 219.2 C893.8 219.9 894.9 223.6 894.9 225.3 C894.9 227.0 893.6 228.8 892.4 229.3 C891.1 229.8 888.3 229.6 887.3 228.3 C886.3 227.0 885.5 222.8 886.3 221.3 Z M853.1 215.2 C854.3 214.2 858.1 213.7 860.1 214.2 C862.2 214.7 865.2 217.1 865.2 218.2 C865.2 219.4 862.2 220.9 860.1 221.3 C858.1 221.6 854.3 221.3 853.1 220.2 C851.9 219.2 851.9 216.2 853.1 215.2 Z M878.3 233.3 C879.4 231.3 885.3 231.7 887.3 232.3 C889.3 233.0 890.7 235.4 890.4 237.4 C890.0 239.4 887.0 243.2 885.3 244.4 C883.6 245.6 881.5 246.3 880.3 244.4 C879.1 242.6 877.1 235.4 878.3 233.3 Z M863.2 230.3 C863.8 229.0 868.0 228.5 869.2 229.3 C870.4 230.1 870.9 234.0 870.2 235.4 C869.5 236.7 866.4 238.2 865.2 237.4 C864.0 236.5 862.5 231.7 863.2 230.3 Z" fill="#48ab98"/>
    <path d="M852.6 222.3 C853.8 221.3 857.9 222.3 859.1 223.3 C860.4 224.3 860.8 227.0 860.1 228.3 C859.5 229.6 856.4 231.2 855.1 231.3 C853.8 231.5 852.5 230.8 852.1 229.3 C851.7 227.8 851.4 223.3 852.6 222.3 Z M882.3 227.3 C882.8 226.3 886.3 224.9 887.3 225.3 C888.3 225.6 888.8 228.3 888.3 229.3 C887.8 230.3 885.3 231.7 884.3 231.3 C883.3 231.0 881.8 228.3 882.3 227.3 Z M883.3 239.4 C883.8 238.7 887.2 238.2 888.3 238.4 C889.5 238.5 890.9 239.7 890.4 240.4 C889.8 241.1 886.5 242.6 885.3 242.4 C884.1 242.2 882.8 240.1 883.3 239.4 Z M866.2 241.4 C866.6 240.6 869.5 240.7 870.2 241.4 C870.9 242.1 870.6 244.7 870.2 245.4 C869.8 246.2 868.4 246.6 867.7 245.9 C867.0 245.3 865.8 242.2 866.2 241.4 Z M870.2 214.2 C871.2 213.7 875.4 214.4 876.3 215.2 C877.1 216.1 876.3 218.7 875.2 219.2 C874.2 219.7 871.1 219.1 870.2 218.2 C869.4 217.4 869.2 214.7 870.2 214.2 Z" fill="#0f5f50"/>
    <path d="M873.2 212.2 C874.6 211.0 876.4 212.7 878.3 213.2 C880.1 213.7 883.6 213.9 884.3 215.2 C885.0 216.6 882.3 219.2 882.3 221.3 C882.3 223.3 884.6 225.8 884.3 227.3 C884.0 228.8 881.8 230.0 880.3 230.3 C878.8 230.7 876.4 230.1 875.2 229.3 C874.1 228.5 874.1 226.8 873.2 225.3 C872.4 223.8 870.2 222.4 870.2 220.2 C870.2 218.1 871.9 213.4 873.2 212.2 Z M892.4 229.3 C893.7 228.8 897.7 231.2 898.4 232.3 C899.1 233.5 897.7 235.9 896.4 236.4 C895.1 236.9 891.0 236.5 890.4 235.4 C889.7 234.2 891.0 229.8 892.4 229.3 Z M855.1 231.3 C855.8 230.3 859.8 229.0 861.1 229.3 C862.5 229.6 863.8 232.3 863.2 233.3 C862.5 234.3 858.5 235.7 857.1 235.4 C855.8 235.0 854.4 232.3 855.1 231.3 Z M865.2 212.2 C866.0 211.5 868.4 210.5 869.2 211.2 C870.0 211.9 870.7 215.0 870.2 216.2 C869.7 217.4 867.2 218.4 866.2 218.2 C865.2 218.1 864.3 216.2 864.2 215.2 C864.0 214.2 864.3 212.9 865.2 212.2 Z" fill="#8fa3a0" opacity=".78"/>
    <path d="M874.0 232.3 C874.5 230.8 876.5 230.8 876.9 232.3 C877.3 233.8 877.0 239.9 876.5 241.4 C876.0 242.9 874.2 242.9 873.8 241.4 C873.4 239.9 873.5 233.8 874.0 232.3 Z" fill="#54756e"/>
    <g fill="#f5c51c"><circle cx="861.3" cy="226.5" r="1.9"/><circle cx="874.0" cy="223.3" r="1.9"/><circle cx="888.7" cy="227.1" r="1.9"/><circle cx="869.2" cy="235.2" r="1.9"/><circle cx="880.0" cy="237.4" r="1.9"/></g>
  </g>
  <!-- tree 2 (female) -->
  <g>
    <path d="M1138.300 267 C1139 260 1139.300 254 1139.200 248 L1143.200 248 C1142.600 254 1142 261 1141.600 267.300 Z" fill="#6f9088"/>
    <path d="M1139 262 L1139.300 249 L1143 249 L1142 262 Z" fill="#07533f"/>
    <path d="M1121 202 C1124 197 1130 196.500 1133 198 C1137 193.500 1146 194 1148 199 C1154 200 1158 204 1158.500 208 C1165 211 1169 218 1168.500 225 C1171.500 231 1168 240 1163 242 C1161 248 1153 250 1148 248 C1143 252.500 1133 251.500 1130 247.500 C1124 248.500 1119.500 244 1120.500 239 C1114.500 236 1113 228 1116.500 223 C1114.500 217 1116 210 1120 208 C1119 206 1119.500 203.500 1121 202 Z" fill="#07533f"/>
    <path d="M1121 203 C1125 198 1131 197 1134 199 C1138 195 1145 196 1147 200 C1150 205 1147 212 1141 214 C1136 220 1126 220 1121 216 C1117 213 1118 206 1121 203 Z" fill="#166f5b"/>
    <path d="M1128 205 C1132 202 1138 203 1139 207 C1137 211 1131 212 1128 209 Z M1122 230 C1125 227 1130 228 1131 231 C1129 235 1124 235 1122 232 Z M1144 218 C1147 216 1150 217 1150.500 220 C1149 223 1145 223 1144 221 Z" fill="#2a8571"/>
    <path d="M1161 210 C1164 213 1167 218 1168.500 224 L1166 222 Z M1125 243 L1131 247 L1126 248 Z M1152 240 L1158 246 L1154 247 Z" fill="#6f9088"/>
    <g fill="#f08223"><circle cx="1127.400" cy="226.500" r="1.800"/><circle cx="1140" cy="223.200" r="1.800"/><circle cx="1154.800" cy="227" r="1.800"/><circle cx="1135.400" cy="235.200" r="1.800"/><circle cx="1146" cy="237.400" r="1.800"/></g>
  </g>
</svg>
<h2 class="t" style="font-size:21.8px;font-weight:700;color:#f08030;letter-spacing:0.420px;top:129.90px;left:796.00px;transform:scaleX(1.0567);-webkit-text-stroke:0.12px currentColor;">Polinização sem intervenção humana</h2>
<p class="t" style="font-size:16.6px;font-weight:400;color:#58595b;letter-spacing:0.605px;top:283.30px;left:795.70px;transform:scaleX(1.1298);">A laranja doce surgiu de um cruzamento entre</p>
<p class="t" style="font-size:16.6px;font-weight:400;color:#58595b;letter-spacing:0.634px;top:304.80px;left:795.70px;transform:scaleX(1.1323);">uma tangerina e uma toranja, nos pomares</p>
<p class="t" style="font-size:16.6px;font-weight:400;color:#58595b;letter-spacing:0.538px;top:326.40px;left:795.70px;transform:scaleX(1.1110);">chineses. Segundo os pesquisadores, o pólen</p>
<p class="t" style="font-size:16.6px;font-weight:400;color:#58595b;letter-spacing:0.452px;top:348.00px;left:795.70px;transform:scaleX(1.1003);">da tangerina voou, através do vento, até as flores</p>
<p class="t" style="font-size:16.6px;font-weight:400;color:#58595b;letter-spacing:0.654px;top:369.60px;left:795.70px;transform:scaleX(1.1454);">da toranja, dando origem a um novo fruto.</p>
<p class="t" style="font-size:16.6px;font-weight:400;color:#58595b;letter-spacing:0.640px;top:391.50px;left:795.70px;transform:scaleX(1.1419);">O agricultor chinês percebeu que algo era</p>
<p class="t" style="font-size:16.6px;font-weight:400;color:#58595b;letter-spacing:0.580px;top:413.10px;left:795.70px;transform:scaleX(1.1332);">diferente, e começou a multiplicar a planta por</p>
<p class="t" style="font-size:16.6px;font-weight:400;color:#58595b;letter-spacing:0.560px;top:434.60px;left:795.70px;transform:scaleX(1.1233);">meio de enxertia. Da China, a laranja doce se</p>
<p class="t" style="font-size:16.6px;font-weight:400;color:#58595b;letter-spacing:0.650px;top:455.60px;left:795.70px;transform:scaleX(1.1337);">espalhou por todo o mundo.</p>
</section>
<section id="produtores">
<!-- bar chart -->
<svg width="1264" height="893" viewBox="0 0 1264 893">
  <g>
    <rect x="194.1" y="513.3" width="496.8" height="23.1" fill="#078fae"/><rect x="192.8" y="511.9" width="496.7" height="22.9" fill="#00aecd"/>
    <rect x="194.1" y="551.7" width="240.5" height="23.1" fill="#dfa00e"/><rect x="192.8" y="550.3" width="240.4" height="22.9" fill="#fdc90f"/>
    <rect x="194.1" y="590.1" width="190.9" height="23.1" fill="#078fae"/><rect x="192.8" y="588.7" width="190.8" height="22.9" fill="#00aecd"/>
    <rect x="194.1" y="628.5" width="161.3" height="23.1" fill="#dfa00e"/><rect x="192.8" y="627.1" width="161.2" height="22.9" fill="#fdc90f"/>
    <rect x="194.1" y="666.9" width="144.9" height="23.1" fill="#078fae"/><rect x="192.8" y="665.5" width="144.8" height="22.9" fill="#00aecd"/>
    <rect x="194.1" y="705.3" width="98.5" height="23.1" fill="#dfa00e"/><rect x="192.8" y="703.9" width="98.4" height="22.9" fill="#fdc90f"/>
    <rect x="194.1" y="743.7" width="52.7" height="23.1" fill="#078fae"/><rect x="192.8" y="742.3" width="52.7" height="22.9" fill="#00aecd"/>
  </g>
</svg>
<h2 class="t" style="font-size:21.8px;font-weight:700;color:#0d8fa8;letter-spacing:0.399px;top:464.70px;left:43.40px;transform:scaleX(1.0579);-webkit-text-stroke:0.12px currentColor;">Maiores produtores de laranja em 2019 (milhões de toneladas)</h2>
<div class="t" style="font-size:17.5px;font-weight:400;color:#1a8fa8;letter-spacing:0.291px;top:516.80px;left:133.70px;transform:scaleX(1.0526);">Brasil</div>
<div class="t" style="font-size:19.5px;font-weight:700;color:#ffde0a;letter-spacing:-0.577px;top:514.80px;left:203.30px;transform:scaleX(0.9359);-webkit-text-stroke:1.5px #ffde0a;">15,1</div>
<div class="t" style="font-size:17.5px;font-weight:400;color:#d0a028;letter-spacing:0.313px;top:555.20px;left:132.30px;transform:scaleX(1.0428);">China</div>
<div class="t" style="font-size:19.5px;font-weight:700;color:#00aacd;letter-spacing:0.213px;top:553.20px;left:203.30px;transform:scaleX(1.0241);-webkit-text-stroke:1.5px #00aacd;">7,3</div>
<div class="t" style="font-size:17.5px;font-weight:400;color:#1a8fa8;letter-spacing:0.404px;top:593.60px;left:46.60px;transform:scaleX(1.0699);">União Europeia</div>
<div class="t" style="font-size:19.5px;font-weight:700;color:#ffde0a;letter-spacing:0.915px;top:591.60px;left:203.30px;transform:scaleX(1.1127);-webkit-text-stroke:1.5px #ffde0a;">5,8</div>
<div class="t" style="font-size:17.5px;font-weight:400;color:#d0a028;letter-spacing:0.423px;top:632.00px;left:44.00px;transform:scaleX(1.0721);">Estados Unidos</div>
<div class="t" style="font-size:19.5px;font-weight:700;color:#00aacd;letter-spacing:0.915px;top:630.00px;left:203.30px;transform:scaleX(1.1127);-webkit-text-stroke:1.5px #00aacd;">4,9</div>
<div class="t" style="font-size:17.5px;font-weight:400;color:#1a8fa8;letter-spacing:0.413px;top:670.40px;left:120.40px;transform:scaleX(1.0591);">México</div>
<div class="t" style="font-size:19.5px;font-weight:700;color:#ffde0a;letter-spacing:1.073px;top:668.40px;left:203.30px;transform:scaleX(1.1348);-webkit-text-stroke:1.5px #ffde0a;">4,4</div>
<div class="t" style="font-size:17.5px;font-weight:400;color:#d0a028;letter-spacing:0.534px;top:708.80px;left:135.60px;transform:scaleX(1.0874);">Egito</div>
<div class="t" style="font-size:19.5px;font-weight:700;color:#00aacd;letter-spacing:0.915px;top:706.80px;left:203.30px;transform:scaleX(1.1127);-webkit-text-stroke:1.5px #00aacd;">3,0</div>
<div class="t" style="font-size:17.5px;font-weight:400;color:#1a8fa8;letter-spacing:0.427px;top:747.20px;left:68.20px;transform:scaleX(1.0839);">África do Sul</div>
<div class="t" style="font-size:19.5px;font-weight:700;color:#ffde0a;letter-spacing:0.018px;top:745.20px;left:203.30px;transform:scaleX(1.0020);-webkit-text-stroke:1.5px #ffde0a;">1,6</div>
</section>
<section id="genealogia">
<!-- genealogy box -->
<svg width="1264" height="893" viewBox="0 0 1264 893">
  <defs>
    <filter id="fb2" x="-30%" y="-30%" width="160%" height="160%"><feGaussianBlur stdDeviation="2.5"/></filter>
    <radialGradient id="gTg" cx="42%" cy="38%" r="72%"><stop offset="0" stop-color="#fa9a45"/><stop offset="0.65" stop-color="#f58226"/><stop offset="1" stop-color="#ea6c1c"/></radialGradient>
    <radialGradient id="gTh" cx="45%" cy="50%" r="65%"><stop offset="0" stop-color="#fbac3c"/><stop offset="0.7" stop-color="#fbab34"/><stop offset="1" stop-color="#fbbc66"/></radialGradient>
    <radialGradient id="gPm" cx="40%" cy="35%" r="75%"><stop offset="0" stop-color="#c3d64a"/><stop offset="0.55" stop-color="#a9c43f"/><stop offset="1" stop-color="#84a538"/></radialGradient>
    <radialGradient id="gPp" cx="50%" cy="50%" r="60%"><stop offset="0" stop-color="#f0e870"/><stop offset="0.7" stop-color="#f4ee88"/><stop offset="1" stop-color="#f8f4b8"/></radialGradient>
    <radialGradient id="gSo" cx="42%" cy="38%" r="72%"><stop offset="0" stop-color="#fcb83a"/><stop offset="0.65" stop-color="#f9a626"/><stop offset="1" stop-color="#f0941e"/></radialGradient>
    <radialGradient id="gSw" cx="65%" cy="35%" r="80%"><stop offset="0" stop-color="#fdb728"/><stop offset="0.55" stop-color="#fba81f"/><stop offset="1" stop-color="#f6921e"/></radialGradient>
  </defs>
  <!-- dashed border -->
  <g fill="none" stroke="#f5b081" stroke-width="1.1">
    <path d="M440.3 576.5 H875.5" stroke-dasharray="4.1 5.1 17.4 9.6"/>
    <path d="M439.6 584.9 V758" stroke-dasharray="17.2 5.7 3.5 10" stroke="#f7c29c" stroke-width="0.9"/>
    <path d="M440.8 765.4 H1222.5" stroke-dasharray="17.2 5.7 3.5 9.7"/>
    <path d="M1222.4 592.4 V765.4" stroke-dasharray="17.6 9.4 3.6 5.8" stroke="#f6ba90" stroke-width="1"/>
  </g>
  <!-- tangerine -->
  <ellipse cx="527.1" cy="641.7" rx="38.2" ry="30.8" fill="url(#gTg)"/>
  <ellipse cx="509" cy="631" rx="13" ry="9" fill="#fbb25c" opacity=".6" filter="url(#fb2)"/>
  <path d="M523.3 611 C522.6 606 523.6 600 526.2 594.5 L528.4 595.2 C526.6 600 526.2 606 527 611 Z" fill="#4a9040"/>
  <path d="M529 605.6 C531.5 604.6 534 604.2 536.4 604.2 C542 603.6 548 603.8 553.6 604.8 C559 606.5 564 609 568.4 612.2 C573 616 577 620 580.7 624.5 C584.5 629 588 633.5 590.5 637.4 C587 636.5 584 635 580.7 633.1 C575 631.5 570 629.5 564.7 626.9 C558 624 552 621 546.2 618.3 C542 615.5 538 612.5 533.9 609.7 C532 608.5 530.5 607 529 605.6 Z" fill="#3f7d3a"/>
  <path d="M531 606 C545 606.5 566 615 589.5 636.8" stroke="#63a058" stroke-width="1.4" fill="none" opacity=".7"/>
  <ellipse cx="501.3" cy="666.4" rx="34.6" ry="29.6" fill="#fdebd6"/>
  <ellipse cx="501.3" cy="666.4" rx="33.2" ry="28.3" fill="url(#gTh)"/>
  <path d="M497 639.500 C503 639 508 641 510.500 644 C512.500 656 512.500 680 509.500 693 C505 695.300 499 695.300 495 693 C492.500 680 492.800 652 497 639.500 Z" fill="#f18e2c"/>
  <path d="M503 646 C500.800 660 501.300 676 504 690" stroke="#e4761e" stroke-width="1.300" fill="none"/>
  <path d="M495 648 C490 660 490 676 494 688 M511 648 C515 660 515 676 511 688" stroke="#fcd08e" stroke-width="1.100" fill="none"/>
  <path d="M471 660 L489 664 M472 674 L489 672 M478 686 L491 680 M531 660 L514 664 M531 674 L514 672 M525 686 L513 680 M480 649 L491 656 M523 649 L513 656" stroke="#fcca80" stroke-width="0.900" fill="none" opacity=".8"/>
  <!-- X -->
  <path d="M616.100 632.400 H629.900 L635.900 640.500 L641.300 632.400 H655.700 L643.300 651.500 L656.100 670.400 H642.600 L635.900 661.600 L629.900 670.400 H615.700 L628.200 651.500 Z" fill="#ee8c38"/>
  <path d="M615.100 631.100 H628.900 L634.900 639.200 L640.300 631.100 H654.700 L642.300 650.200 L655.100 669.100 H641.600 L634.900 660.300 L628.900 669.100 H614.700 L627.200 650.200 Z" fill="#f6b882"/>
  <!-- pomelo -->
  <path d="M743.2 592.7 C747.4 592.7 753.0 593.7 757.2 596.2 C761.4 598.6 765.1 603.2 768.4 607.4 C771.6 611.6 774.2 616.7 776.8 621.4 C779.3 626.0 782.3 631.2 783.8 635.4 C785.2 639.6 785.4 642.4 785.4 646.6 C785.4 650.8 785.2 655.9 783.8 660.6 C782.3 665.2 780.3 670.8 776.8 674.6 C773.3 678.3 767.9 681.0 762.8 683.0 C757.6 684.9 750.9 685.6 746.0 686.0 C741.1 686.5 736.6 686.0 733.4 685.8 C730.1 685.5 729.4 685.6 726.4 684.6 C723.4 683.7 718.7 682.3 715.2 680.2 C711.7 678.0 708.0 675.0 705.4 671.8 C702.8 668.5 700.9 664.8 699.8 660.6 C698.7 656.4 698.2 651.2 698.7 646.6 C699.1 641.9 700.5 637.2 702.6 632.6 C704.6 627.9 708.0 623.0 711.0 618.6 C714.0 614.2 717.3 609.7 720.8 606.0 C724.3 602.3 728.2 598.4 732.0 596.2 C735.7 594.0 739.0 592.7 743.2 592.7 Z" fill="url(#gPm)"/>
  <path d="M736.2 600.4 C740.6 598.8 746.0 599.2 748.8 601.8 C751.6 604.4 753.0 610.9 753.0 615.8 C753.0 620.7 751.6 627.0 748.8 631.2 C746.0 635.4 740.6 639.8 736.2 641.0 C731.7 642.1 725.5 640.5 722.2 638.2 C718.9 635.8 716.6 631.4 716.6 627.0 C716.6 622.6 718.9 616.0 722.2 611.6 C725.5 607.2 731.7 602.0 736.2 600.4 Z" fill="#cbdc4a" opacity=".7" filter="url(#fb2)"/>
  <path d="M769.1 643.1 C773.7 643.1 779.9 641.8 785.2 643.8 C790.4 645.8 797.0 650.3 800.6 655.0 C804.1 659.6 805.8 666.2 806.4 671.8 C807.0 677.4 806.2 683.9 804.0 688.6 C801.9 693.2 797.6 697.2 793.6 699.7 C789.5 702.3 784.7 703.2 779.6 703.9 C774.4 704.6 768.4 704.4 762.8 703.9 C757.2 703.5 750.6 703.2 746.0 701.1 C741.3 699.0 737.2 695.8 734.8 691.4 C732.4 686.9 731.7 679.9 731.7 674.6 C731.7 669.2 732.4 663.6 734.8 659.2 C737.2 654.7 742.2 650.6 746.0 648.0 C749.7 645.4 753.3 644.3 757.2 643.5 C761.0 642.7 764.4 643.0 769.1 643.1 Z" fill="#f9f7e4"/>
  <path d="M760.0 644.5 C763.0 645.1 764.2 647.6 765.6 650.8 C767.0 653.9 767.5 658.5 768.4 663.4 C769.2 668.3 770.5 674.8 770.5 680.2 C770.5 685.5 770.1 691.9 768.4 695.6 C766.6 699.2 763.2 700.9 760.0 701.8 C756.7 702.8 752.3 702.4 748.8 701.1 C745.3 699.9 741.5 697.4 739.0 694.2 C736.4 690.9 734.4 685.8 733.4 681.6 C732.3 677.4 732.0 673.2 732.7 669.0 C733.4 664.8 735.1 660.0 737.6 656.4 C740.0 652.8 743.6 649.3 747.4 647.3 C751.1 645.3 756.9 643.9 760.0 644.5 Z" fill="url(#gPp)"/>
  <path d="M769.8 645.2 C771.4 643.8 775.8 643.3 779.6 643.8 C783.3 644.2 788.4 645.4 792.2 648.0 C795.9 650.5 799.6 655.0 802.0 659.2 C804.3 663.4 805.9 668.5 806.1 673.2 C806.4 677.8 805.2 683.2 803.4 687.2 C801.5 691.1 798.0 695.0 795.0 697.0 C791.9 698.9 787.7 700.0 785.2 699.0 C782.6 698.1 781.0 695.0 779.6 691.4 C778.2 687.7 777.7 682.0 776.8 677.4 C775.8 672.7 775.1 667.6 774.0 663.4 C772.8 659.2 770.5 655.2 769.8 652.2 C769.1 649.1 768.1 646.6 769.8 645.2 Z" fill="url(#gPp)"/>
  <path d="M742 660 L756 668 M738 676 L755 676 M744 692 L757 684 M798 662 L784 668 M801 678 L785 677 M794 692 L783 685 M760 652 L764 664 M785 650 L781 662" stroke="#e6df62" stroke-width="1" fill="none" opacity=".8"/>
  <!-- = -->
  <rect x="839.2" y="639" width="28.9" height="10.6" fill="#ea8432"/><rect x="837.3" y="637.3" width="28.8" height="10.7" fill="#f6b882"/>
  <rect x="839.2" y="653.8" width="28.9" height="10.7" fill="#ea8432"/><rect x="837.3" y="652.2" width="28.8" height="10.6" fill="#f6b882"/>
  <!-- sour orange -->
  <ellipse cx="940.9" cy="651" rx="38.7" ry="35.1" fill="url(#gSo)"/>
  <ellipse cx="932" cy="645" rx="17" ry="12" fill="#fdbd38" opacity=".6" filter="url(#fb2)"/>
  <ellipse cx="943.2" cy="632.500" rx="5" ry="2.600" fill="#f09a1e" opacity=".8"/>
  <path d="M941.800 633.500 C942.500 622 942.500 610 941.300 599 L943.500 598.500 C945.500 610 945.500 622 944.500 633.500 Z" fill="#2f6b34"/>
  <path d="M934.500 620.500 L942 622.500 L942 624 L934.500 622 Z" fill="#3f8a3c"/>
  <!-- slash -->
  <path d="M1040.1 628 L1049.8 628 L1026.2 677.6 L1016.6 677.6 Z" fill="#ea7e28"/>
  <path d="M1038.6 625.9 L1048.3 625.9 L1024.7 675.5 L1015.1 675.5 Z" fill="#f6b882"/>
  <!-- sweet orange -->
  <ellipse cx="1153.8" cy="656.1" rx="37.4" ry="31.9" fill="url(#gSw)"/>
  <path d="M1160.2 641.7 C1162.6 640.4 1169.0 640.4 1171.8 641.7 C1174.6 643.0 1176.7 646.9 1177.0 649.4 C1177.2 652.0 1175.5 655.9 1173.1 657.2 C1170.7 658.5 1165.4 658.5 1162.8 657.2 C1160.2 655.9 1158.1 652.0 1157.6 649.4 C1157.2 646.9 1157.8 643.0 1160.2 641.7 Z" fill="#fdc656" opacity=".7" filter="url(#fb2)"/>
  <path d="M1134.4 594.0 C1134.0 592.5 1135.7 591.9 1137.0 593.0 C1138.3 594.1 1140.4 597.5 1142.2 600.5 C1143.9 603.4 1145.4 607.1 1147.3 610.8 C1149.3 614.4 1153.2 620.3 1153.8 622.4 C1154.3 624.5 1152.0 625.0 1150.5 623.4 C1149.0 621.8 1146.6 616.2 1144.7 612.7 C1142.9 609.2 1141.3 605.5 1139.6 602.4 C1137.9 599.3 1134.9 595.6 1134.4 594.0 Z" fill="#4a8f3c"/>
  <path d="M1076.4 626.2 C1077.1 623.4 1082.5 619.5 1086.8 617.2 C1091.0 615.0 1097.5 613.4 1102.2 612.7 C1106.9 612.1 1111.2 612.4 1115.1 613.4 C1119.0 614.3 1122.2 616.8 1125.4 618.5 C1128.6 620.2 1133.8 621.7 1134.4 623.7 C1135.1 625.6 1131.4 628.1 1129.3 630.1 C1127.1 632.1 1124.3 634.1 1121.5 635.9 C1118.8 637.7 1115.5 639.7 1112.5 640.7 C1109.5 641.7 1106.7 642.2 1103.5 642.0 C1100.3 641.7 1096.6 640.5 1093.2 639.1 C1089.8 637.8 1085.7 636.1 1082.9 634.0 C1080.1 631.8 1075.8 629.0 1076.4 626.2 Z" fill="#2f5d2c"/>
  <path d="M1079 626.500 C1095 627.500 1112 627 1130 624" stroke="#4a7a40" stroke-width="1" fill="none"/>
  <path d="M1100.3 666.8 C1099.9 664.8 1103.6 659.0 1106.1 654.6 C1108.6 650.2 1111.9 644.5 1115.1 640.4 C1118.3 636.3 1121.8 632.8 1125.4 630.1 C1129.1 627.4 1133.4 625.5 1137.0 624.3 C1140.7 623.1 1143.8 622.7 1147.3 622.6 C1150.9 622.5 1156.7 622.5 1158.3 623.7 C1159.8 624.8 1157.6 627.2 1156.6 629.5 C1155.6 631.7 1154.2 634.5 1152.5 637.2 C1150.7 639.9 1149.0 642.7 1146.0 645.6 C1143.0 648.5 1138.5 651.9 1134.4 654.6 C1130.4 657.3 1125.8 659.9 1121.5 661.9 C1117.3 664.0 1112.2 666.1 1108.7 667.0 C1105.1 667.8 1100.7 668.9 1100.3 666.8 Z" fill="#4a8a3c"/>
  <path d="M1101.6 665.9 C1104.0 663.6 1111.3 656.7 1116.4 652.0 C1121.4 647.3 1127.1 641.7 1131.9 637.8 C1136.6 634.0 1140.6 631.1 1144.7 628.8 C1148.9 626.6 1154.9 625.1 1157.0 624.3" stroke="#86b868" stroke-width="2.600" fill="none" opacity=".75" stroke-linecap="round"/>
</svg>
<h2 class="t" style="font-size:22.4px;font-weight:700;color:#f0985a;letter-spacing:0.306px;top:563.00px;left:881.30px;transform:scaleX(1.0420);-webkit-text-stroke:0.12px currentColor;">Árvore genealógica da laranja</h2>
<div class="t" style="font-size:16.8px;font-weight:400;color:#f08040;letter-spacing:0.533px;top:704.50px;left:478.30px;transform:scaleX(1.0951);-webkit-text-stroke:0.6px currentColor;">Tangerina</div>
<div class="t" style="font-size:17.5px;font-weight:400;color:#f08040;font-style:italic;letter-spacing:0.401px;top:725.60px;left:452.30px;transform:scaleX(1.0860);">Citrus reticulata</div>
<div class="t" style="font-size:16.8px;font-weight:400;color:#b5a030;letter-spacing:0.499px;top:704.50px;left:707.10px;transform:scaleX(1.0889);-webkit-text-stroke:0.6px currentColor;">Toranja</div>
<div class="t" style="font-size:17.5px;font-weight:400;color:#b5a030;font-style:italic;letter-spacing:0.427px;top:725.60px;left:675.70px;transform:scaleX(1.0739);">Citrus maxima</div>
<div class="t" style="font-size:16.8px;font-weight:400;color:#d4a020;letter-spacing:0.554px;top:704.50px;left:878.45px;transform:scaleX(1.1034);-webkit-text-stroke:0.6px currentColor;">Laranja azeda</div>
<div class="t" style="font-size:17.5px;font-weight:400;color:#d4a020;font-style:italic;letter-spacing:0.425px;top:725.60px;left:868.00px;transform:scaleX(1.0804);">Citrus aurantium</div>
<div class="t" style="font-size:16.8px;font-weight:400;color:#f08a28;letter-spacing:0.552px;top:704.30px;left:1086.10px;transform:scaleX(1.1036);-webkit-text-stroke:0.6px currentColor;">Laranja doce</div>
<div class="t" style="font-size:17.5px;font-weight:400;color:#f08a28;font-style:italic;letter-spacing:0.310px;top:725.40px;left:1080.75px;transform:scaleX(1.0607);">Citrus sinensis</div>
</section>
<footer id="rodape">
<!-- CropLife logo mark -->
<svg width="1264" height="893" viewBox="0 0 1264 893">
  <path d="M659.700 805.700 C663 802.500 667 801 671.500 801.300 C680 802 686.500 809 689.500 820 C692 830 692.300 841 691.300 848 C690.500 853 688.800 857.500 686.700 860.800 C688 856 688.800 851 688.900 846 C689 836 686 825 679.500 816 C674 809 667 805.500 659.700 805.700 Z" fill="#167a3a"/>
  <path d="M691 812.600 C694 807.500 701 805 707 805.300 C710 805.500 712 806 713.600 806.500 C706 809 699.500 814.500 694.500 823 C693.800 819 692.500 815.500 691 812.600 Z" fill="#167a3a"/>
  <path d="M666.600 852.500 C674 848.500 682 846.600 690 846.600 C699 846.700 708.500 849.500 716.600 853.600 C708 850.800 699 849.400 690 849.400 C682 849.400 674 850.400 666.600 852.500 Z" fill="#6abf3a"/>
</svg>
<p class="t" style="font-size:14.2px;font-weight:400;color:#15753a;letter-spacing:0.423px;top:816.40px;left:785.90px;transform:scaleX(1.1089);">Fonte: IVIA Centro de Genómica, Ministerio de Agricultura,</p>
<p class="t" style="font-size:14.2px;font-weight:400;color:#15753a;letter-spacing:0.458px;top:834.60px;left:801.20px;transform:scaleX(1.1066);">Alimentación y Medio Ambiente de España; USDA, 2020</p>
<div class="t" style="font-size:24px;font-weight:400;color:#167a3a;letter-spacing:0.228px;top:818.40px;left:547.40px;transform:scaleX(1.2542);"><span style="color:#167a3a">Crop</span><span style="color:#6abf3a">Life</span></div>
<div class="t" style="font-size:7.6px;font-weight:700;color:#167a3a;letter-spacing:1.121px;top:844.80px;left:614.40px;transform:scaleX(1.4232);">BRASIL</div>
</footer>
</div>
</body>
</html>
